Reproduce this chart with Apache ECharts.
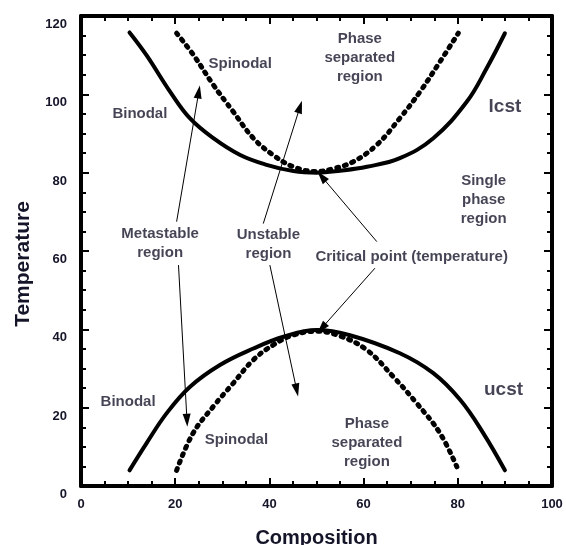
<!DOCTYPE html>
<html><head><meta charset="utf-8">
<script src="https://cdn.jsdelivr.net/npm/echarts@6/dist/echarts.min.js"></script>
<style>html,body{margin:0;padding:0;background:#fff}#c{width:566px;height:545px}</style>
</head><body><div id="c"></div><script>
// Composition vs temperature readings
var lcstBinodal = [[10.3,115.8],[13.9,110],[18.9,100.7],[23.1,93.9],[28.1,88.8],[33.8,84.5],[39.4,82],[45.1,80.4],[50,80],[55,80.5],[60.7,81.5],[67.7,83.7],[74.8,88.8],[81.9,98.1],[86.1,106.6],[90,115.6]];
var lcstSpinodal = [[20.3,115.6],[23.9,110],[28.1,102.4],[32.3,95.6],[36.6,88.8],[40.8,84.5],[45.1,81.5],[50,80.3],[53.5,81],[57.8,82.8],[62.8,87.1],[67.7,93.9],[72,100.7],[76.2,108.3],[80.1,115.6]];
var ucstBinodal = [[10.3,4],[13.9,10.9],[18.2,18.6],[23.1,25.3],[29.5,30.9],[36.6,35.1],[43,38.1],[50,39.8],[57.1,38.5],[67.7,33.9],[74.8,28.8],[80.5,22],[85.4,13.5],[90,4]];
var ucstSpinodal = [[20.3,4],[23.8,13.5],[28.1,20.3],[32.3,26.2],[36.6,32.2],[40.8,36],[45,38.5],[50,39.5],[55,38.3],[60.7,34.7],[66.3,27.9],[71.3,21.1],[76.2,13.5],[79.8,4.9]];
var xTicks = [0,20,40,60,80,100];
var yTicks = [0,20,40,60,80,100,120];
// annotation labels [composition, temperature, text]
var labelPoints = [
  [12.5,94.9,'Binodal'],
  [33.8,107.9,'Spinodal'],
  [59.2,109.3,'Phase\nseparated\nregion'],
  [85.5,73,'Single\nphase\nregion'],
  [16.8,62,'Metastable\nregion'],
  [39.8,61.7,'Unstable\nregion'],
  [70.2,58.5,'Critical point (temperature)'],
  [10,21.5,'Binodal'],
  [33,11.7,'Spinodal'],
  [60.7,11,'Phase\nseparated\nregion']
];
var bigLabels = [[90,96.8,'lcst'],[89.7,24.5,'ucst']];
// arrows [fromX, fromY, toX, toY]
var arrows = [
  [20.3,67.5,25,100.6],
  [20.7,56.4,22.5,16.8],
  [38.7,67,46.5,96.8],
  [40.1,56.4,45.8,24.5],
  [62.8,62.4,51.1,79],
  [62.4,55.6,51.1,40.3]
];

var txt = '#15152a';
var ff = '"Liberation Sans", Arial, sans-serif';
function axisCommon(showLabel){
  return {
    axisLine:{show:true,onZero:false,lineStyle:{color:'#000',width:4}},
    axisTick:{show:true,inside:true,length:8,lineStyle:{color:'#000',width:2}},
    minorTick:{show:true,splitNumber:4,length:5,lineStyle:{color:'#000',width:2}},
    splitLine:{show:false},
    axisLabel:{show:showLabel,color:txt,fontFamily:ff,fontWeight:'bold',fontSize:13}
  };
}
var xb = Object.assign({type:'value',position:'bottom',min:xTicks[0],max:xTicks[xTicks.length-1],interval:xTicks[1]-xTicks[0],
  name:'Composition',nameLocation:'middle',nameGap:42,nameTextStyle:{color:txt,fontFamily:ff,fontWeight:'bold',fontSize:20}},axisCommon(true));
xb.axisLabel.margin=12;
var xt = Object.assign({type:'value',position:'top',min:xTicks[0],max:xTicks[xTicks.length-1],interval:xTicks[1]-xTicks[0]},axisCommon(false));
var yl = Object.assign({type:'value',position:'left',min:yTicks[0],max:yTicks[yTicks.length-1],interval:yTicks[1]-yTicks[0],
  name:'Temperature',nameLocation:'middle',nameGap:47,nameTextStyle:{color:txt,fontFamily:ff,fontWeight:'bold',fontSize:21,padding:[0,26,0,0]}},axisCommon(true));
yl.axisLabel.margin=14; yl.axisLabel.verticalAlign='top'; yl.axisLabel.padding=[2,0,0,0];
var yr = Object.assign({type:'value',position:'right',min:yTicks[0],max:yTicks[yTicks.length-1],interval:yTicks[1]-yTicks[0]},axisCommon(false));

function curve(name,data,dotted){
  return {type:'line',name:name,data:data,smooth:0.4,showSymbol:false,silent:true,
    lineStyle:dotted?{color:'#000',width:5,type:[2,6],cap:'round'}:{color:'#000',width:4,cap:'round'}};
}
var chart = echarts.init(document.getElementById('c'),null,{renderer:'canvas'});
chart.setOption({
  animation:false,
  backgroundColor:'#fff',
  grid:{left:81,right:14,top:16,bottom:59,containLabel:false,outerBoundsMode:'none'},
  xAxis:[xb,xt],
  yAxis:[yl,yr],
  series:[
    curve('lcst binodal',lcstBinodal,false),
    curve('lcst spinodal',lcstSpinodal,true),
    curve('ucst binodal',ucstBinodal,false),
    curve('ucst spinodal',ucstSpinodal,true),
    {type:'scatter',data:labelPoints,symbolSize:1,itemStyle:{color:'rgba(0,0,0,0)'},silent:true,
      label:{show:true,position:'inside',formatter:function(p){return p.data[2];},color:txt,fontFamily:ff,fontWeight:'bold',fontSize:15,lineHeight:19,align:'center'},
      markLine:{silent:true,animation:false,symbol:['none','triangle'],label:{show:false},
        lineStyle:{color:'#000',width:1,type:'solid'},
        data:arrows.map(function(a){return [{coord:[a[0],a[1]],symbol:'none'},{coord:[a[2],a[3]],symbol:'triangle',symbolSize:[8,13]}];})}
    },
    {type:'scatter',data:bigLabels,symbolSize:1,itemStyle:{color:'rgba(0,0,0,0)'},silent:true,
      label:{show:true,position:'inside',formatter:function(p){return p.data[2];},color:txt,fontFamily:ff,fontWeight:'bold',fontSize:19}}
  ]
});
</script></body></html>
